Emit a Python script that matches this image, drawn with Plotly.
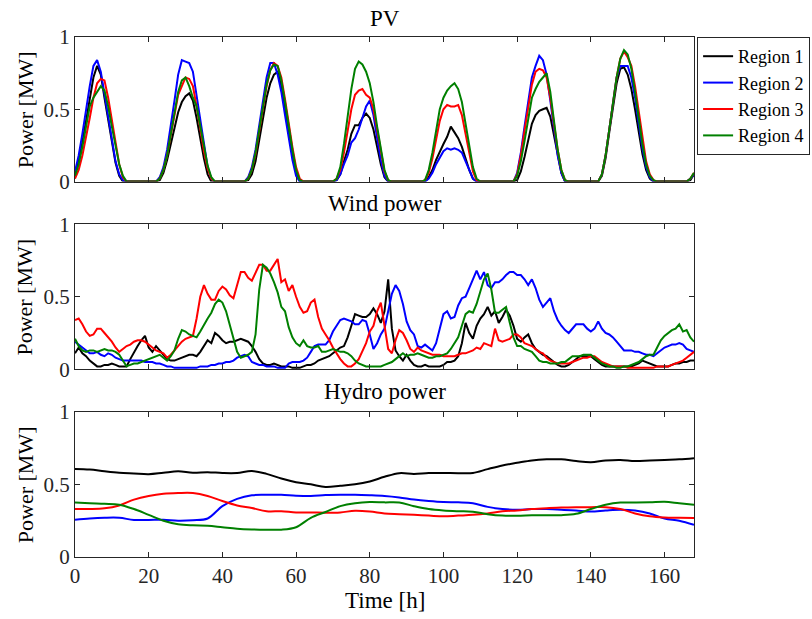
import plotly.graph_objects as go

# ---------------- data ----------------
hours = list(range(169))
hydro_hours = list(range(0, 169, 4))
regions = ["Region 1", "Region 2", "Region 3", "Region 4"]
colors = ["#000000", "#0000FF", "#FF0000", "#008000"]

pv_r1 = [0.05,0.14,0.27,0.42,0.58,0.72,0.80,0.74,0.58,0.42,0.26,0.13,0.04,0,0,0,0,0,0,0,0,0,0,0.01,
         0.06,0.15,0.26,0.38,0.48,0.55,0.59,0.61,0.56,0.44,0.30,0.16,0.05,0,0,0,0,0,0,0,0,0,0,0.01,
         0.05,0.14,0.28,0.44,0.58,0.68,0.74,0.76,0.66,0.50,0.34,0.19,0.07,0,0,0,0,0,0,0,0,0,0,0.01,
         0.05,0.14,0.22,0.33,0.39,0.39,0.44,0.47,0.44,0.36,0.24,0.12,0.03,0,0,0,0,0,0,0,0,0,0,0,
         0.03,0.08,0.15,0.21,0.26,0.31,0.38,0.34,0.30,0.24,0.16,0.08,0.02,0,0,0,0,0,0,0,0,0,0,0,
         0.01,0.07,0.17,0.29,0.40,0.46,0.49,0.50,0.51,0.45,0.32,0.17,0.06,0,0,0,0,0,0,0,0,0,0,0.04,
         0.16,0.34,0.52,0.68,0.78,0.79,0.74,0.64,0.50,0.34,0.19,0.08,0.02,0,0,0,0,0,0,0,0,0,0,0.01,
         0.05]
pv_r2 = [0.07,0.18,0.33,0.50,0.66,0.80,0.84,0.76,0.60,0.43,0.27,0.14,0.05,0.01,0,0,0,0,0,0,0,0,0,0.03,
         0.10,0.22,0.38,0.56,0.74,0.84,0.83,0.82,0.76,0.60,0.42,0.25,0.10,0.02,0,0,0,0,0,0,0,0,0,0.03,
         0.10,0.22,0.38,0.56,0.72,0.82,0.82,0.74,0.62,0.46,0.30,0.15,0.04,0,0,0,0,0,0,0,0,0,0,0.01,
         0.05,0.12,0.18,0.27,0.30,0.36,0.44,0.52,0.56,0.46,0.30,0.15,0.04,0,0,0,0,0,0,0,0,0,0,0,
         0.02,0.06,0.12,0.17,0.21,0.23,0.22,0.23,0.22,0.20,0.14,0.07,0.02,0,0,0,0,0,0,0,0,0,0,0,
         0.06,0.20,0.38,0.56,0.72,0.80,0.87,0.84,0.74,0.56,0.36,0.18,0.06,0,0,0,0,0,0,0,0,0,0,0.05,
         0.18,0.36,0.55,0.72,0.80,0.80,0.80,0.72,0.58,0.40,0.23,0.10,0.03,0,0,0,0,0,0,0,0,0,0,0.02,
         0.05]
pv_r3 = [0.02,0.08,0.18,0.30,0.44,0.58,0.68,0.71,0.70,0.58,0.42,0.26,0.12,0.03,0,0,0,0,0,0,0,0,0,0.02,
         0.08,0.18,0.32,0.47,0.60,0.66,0.72,0.71,0.66,0.52,0.36,0.21,0.09,0.02,0,0,0,0,0,0,0,0,0,0.02,
         0.08,0.19,0.34,0.50,0.66,0.77,0.82,0.80,0.72,0.57,0.40,0.24,0.10,0.02,0,0,0,0,0,0,0,0,0,0.02,
         0.08,0.20,0.36,0.50,0.60,0.63,0.64,0.60,0.58,0.50,0.36,0.20,0.07,0.01,0,0,0,0,0,0,0,0,0,0.01,
         0.06,0.16,0.30,0.42,0.50,0.53,0.52,0.52,0.53,0.46,0.33,0.19,0.07,0.01,0,0,0,0,0,0,0,0,0,0,
         0.05,0.18,0.35,0.52,0.67,0.76,0.78,0.77,0.72,0.58,0.40,0.22,0.08,0.01,0,0,0,0,0,0,0,0,0,0.05,
         0.18,0.36,0.55,0.72,0.85,0.90,0.86,0.80,0.66,0.48,0.30,0.14,0.05,0.01,0,0,0,0,0,0,0,0,0,0.02,
         0.06]
pv_r4 = [0.04,0.12,0.24,0.38,0.52,0.58,0.62,0.66,0.63,0.52,0.38,0.24,0.12,0.04,0,0,0,0,0,0,0,0,0,0.02,
         0.08,0.18,0.32,0.48,0.62,0.70,0.72,0.66,0.58,0.52,0.38,0.24,0.11,0.03,0,0,0,0,0,0,0,0,0,0.02,
         0.08,0.20,0.36,0.52,0.67,0.77,0.81,0.80,0.70,0.55,0.38,0.22,0.08,0.01,0,0,0,0,0,0,0,0,0,0.02,
         0.10,0.26,0.46,0.64,0.78,0.83,0.81,0.76,0.68,0.55,0.38,0.22,0.08,0.01,0,0,0,0,0,0,0,0,0,0.01,
         0.08,0.20,0.36,0.50,0.58,0.63,0.66,0.68,0.64,0.55,0.40,0.24,0.10,0.02,0,0,0,0,0,0,0,0,0,0,
         0.04,0.14,0.28,0.44,0.58,0.64,0.69,0.72,0.75,0.62,0.42,0.22,0.08,0.01,0,0,0,0,0,0,0,0,0,0.05,
         0.18,0.36,0.55,0.72,0.85,0.91,0.88,0.78,0.62,0.44,0.26,0.12,0.04,0.01,0,0,0,0,0,0,0,0,0,0.02,
         0.06]

wind_r1 = [0.11,0.15,0.11,0.09,0.06,0.04,0.02,0.02,0.03,0.03,0.04,0.03,0.02,0.02,0.02,0.07,0.12,0.16,0.20,0.23,0.15,0.12,0.16,0.13,
           0.10,0.07,0.06,0.06,0.07,0.08,0.09,0.10,0.10,0.09,0.12,0.16,0.20,0.18,0.25,0.23,0.20,0.18,0.19,0.19,0.20,0.21,0.20,0.19,
           0.16,0.12,0.07,0.04,0.03,0.03,0.04,0.03,0.02,0.02,0.02,0.01,0.01,0.01,0.02,0.03,0.03,0.04,0.06,0.07,0.08,0.09,0.11,0.13,
           0.15,0.16,0.22,0.30,0.38,0.37,0.36,0.36,0.38,0.42,0.38,0.32,0.40,0.62,0.28,0.13,0.09,0.06,0.10,0.06,0.03,0.02,0.02,0.03,
           0.02,0.02,0.02,0.02,0.03,0.05,0.05,0.06,0.09,0.18,0.32,0.25,0.21,0.30,0.35,0.38,0.43,0.37,0.40,0.32,0.36,0.41,0.37,0.30,
           0.21,0.19,0.22,0.24,0.18,0.14,0.12,0.10,0.09,0.07,0.05,0.03,0.02,0.02,0.03,0.05,0.07,0.09,0.09,0.09,0.09,0.07,0.05,0.03,
           0.02,0.02,0.02,0.02,0.02,0.02,0.02,0.02,0.03,0.04,0.06,0.05,0.04,0.03,0.02,0.02,0.02,0.02,0.03,0.04,0.04,0.05,0.05,0.06,
           0.06]
wind_r2 = [0.19,0.17,0.15,0.13,0.11,0.11,0.12,0.10,0.09,0.11,0.10,0.08,0.07,0.06,0.06,0.06,0.06,0.06,0.06,0.05,0.05,0.05,0.04,0.04,
           0.03,0.02,0.02,0.01,0.01,0.01,0.01,0.01,0.01,0.01,0.02,0.02,0.02,0.03,0.03,0.04,0.04,0.05,0.05,0.06,0.08,0.09,0.10,0.09,
           0.05,0.04,0.03,0.03,0.02,0.02,0.02,0.01,0.01,0.01,0.04,0.05,0.05,0.05,0.06,0.08,0.12,0.16,0.17,0.17,0.17,0.20,0.26,0.30,
           0.34,0.35,0.34,0.33,0.31,0.31,0.34,0.33,0.24,0.14,0.18,0.24,0.28,0.40,0.52,0.58,0.54,0.45,0.33,0.27,0.24,0.16,0.15,0.17,
           0.15,0.13,0.18,0.28,0.38,0.40,0.35,0.36,0.44,0.49,0.50,0.56,0.62,0.68,0.62,0.67,0.58,0.56,0.60,0.60,0.62,0.65,0.67,0.67,
           0.65,0.65,0.62,0.58,0.62,0.56,0.48,0.43,0.46,0.49,0.40,0.34,0.30,0.27,0.25,0.28,0.31,0.31,0.31,0.28,0.26,0.28,0.33,0.28,
           0.25,0.24,0.22,0.19,0.16,0.13,0.13,0.13,0.12,0.12,0.11,0.10,0.10,0.09,0.11,0.13,0.15,0.16,0.17,0.17,0.18,0.17,0.14,0.13,
           0.12]
wind_r3 = [0.34,0.35,0.31,0.26,0.23,0.24,0.28,0.28,0.25,0.22,0.19,0.15,0.12,0.14,0.16,0.17,0.19,0.20,0.20,0.19,0.17,0.15,0.13,0.12,
           0.11,0.08,0.10,0.13,0.16,0.19,0.21,0.22,0.23,0.35,0.50,0.58,0.52,0.48,0.48,0.54,0.57,0.55,0.51,0.49,0.58,0.67,0.67,0.63,
           0.61,0.66,0.72,0.72,0.68,0.68,0.72,0.76,0.60,0.62,0.54,0.58,0.50,0.43,0.39,0.40,0.46,0.48,0.36,0.28,0.24,0.20,0.15,0.11,
           0.07,0.04,0.02,0.02,0.04,0.07,0.13,0.18,0.26,0.30,0.40,0.46,0.30,0.14,0.11,0.20,0.27,0.25,0.20,0.14,0.12,0.15,0.13,0.12,
           0.11,0.10,0.10,0.10,0.09,0.09,0.09,0.09,0.10,0.11,0.11,0.12,0.13,0.15,0.14,0.18,0.17,0.16,0.28,0.20,0.19,0.20,0.21,0.24,
           0.24,0.22,0.18,0.17,0.16,0.14,0.12,0.11,0.08,0.06,0.05,0.04,0.04,0.04,0.04,0.05,0.06,0.07,0.08,0.08,0.09,0.09,0.07,0.05,
           0.04,0.03,0.02,0.02,0.02,0.02,0.01,0.01,0.01,0.01,0.01,0.01,0.01,0.01,0.02,0.02,0.02,0.02,0.03,0.04,0.05,0.06,0.08,0.10,
           0.12]
wind_r4 = [0.21,0.16,0.13,0.12,0.13,0.13,0.12,0.13,0.14,0.13,0.13,0.12,0.10,0.06,0.02,0.03,0.04,0.04,0.05,0.06,0.07,0.08,0.09,0.10,
           0.08,0.06,0.09,0.13,0.21,0.27,0.26,0.24,0.23,0.22,0.26,0.31,0.35,0.39,0.45,0.48,0.46,0.40,0.30,0.22,0.12,0.08,0.09,0.10,
           0.12,0.24,0.55,0.72,0.70,0.66,0.60,0.53,0.43,0.40,0.29,0.22,0.18,0.16,0.20,0.16,0.15,0.15,0.16,0.12,0.12,0.13,0.14,0.13,
           0.12,0.12,0.11,0.09,0.06,0.04,0.03,0.02,0.02,0.02,0.02,0.02,0.03,0.04,0.05,0.07,0.09,0.11,0.09,0.10,0.10,0.11,0.10,0.09,
           0.08,0.08,0.09,0.09,0.10,0.11,0.14,0.18,0.22,0.30,0.38,0.40,0.39,0.45,0.54,0.62,0.66,0.55,0.39,0.39,0.41,0.43,0.32,0.22,
           0.16,0.16,0.14,0.13,0.12,0.09,0.06,0.05,0.05,0.04,0.04,0.04,0.05,0.05,0.07,0.09,0.09,0.09,0.10,0.10,0.10,0.08,0.06,0.04,
           0.03,0.02,0.02,0.01,0.01,0.02,0.02,0.03,0.04,0.05,0.07,0.09,0.10,0.10,0.15,0.20,0.23,0.25,0.27,0.28,0.31,0.26,0.27,0.22,
           0.19]

hydro_r1 = [0.606,0.602,0.59,0.58,0.575,0.57,0.58,0.59,0.58,0.584,0.578,0.578,0.592,0.572,0.54,0.515,0.50,0.482,0.49,0.50,0.52,0.552,
            0.577,0.572,0.578,0.578,0.577,0.578,0.605,0.63,0.648,0.665,0.672,0.672,0.66,0.652,0.664,0.668,0.66,0.664,0.668,0.672,0.68]
hydro_r2 = [0.256,0.265,0.27,0.27,0.255,0.255,0.256,0.25,0.253,0.265,0.35,0.40,0.425,0.428,0.428,0.422,0.42,0.426,0.428,0.428,0.425,0.42,
            0.41,0.395,0.385,0.378,0.376,0.37,0.345,0.33,0.325,0.33,0.33,0.326,0.32,0.313,0.32,0.325,0.32,0.30,0.265,0.25,0.222]
hydro_r3 = [0.33,0.33,0.335,0.355,0.395,0.42,0.435,0.44,0.44,0.42,0.385,0.355,0.337,0.315,0.315,0.307,0.307,0.305,0.307,0.318,0.313,0.30,
            0.295,0.29,0.285,0.28,0.285,0.29,0.30,0.315,0.32,0.33,0.336,0.34,0.343,0.343,0.343,0.33,0.30,0.28,0.272,0.27,0.268]
hydro_r4 = [0.375,0.37,0.366,0.36,0.33,0.29,0.25,0.226,0.218,0.215,0.205,0.195,0.19,0.188,0.188,0.205,0.27,0.31,0.35,0.37,0.378,0.376,
            0.375,0.35,0.33,0.32,0.315,0.312,0.295,0.285,0.284,0.287,0.288,0.288,0.297,0.33,0.36,0.375,0.375,0.376,0.38,0.37,0.36]

pv = [pv_r1, pv_r2, pv_r3, pv_r4]
wind = [wind_r1, wind_r2, wind_r3, wind_r4]
hydro = [hydro_r1, hydro_r2, hydro_r3, hydro_r4]

panel_titles = ["PV", "Wind power", "Hydro power"]
x_ticks = [0, 20, 40, 60, 80, 100, 120, 140, 160]
y_ticks = [0, 0.5, 1]
y_tick_text = ["0", "0.5", "1"]

# ---------------- figure ----------------
FONT = "Liberation Serif"
AX = "#262626"

fig = go.Figure()
for i in range(4):
    fig.add_trace(go.Scatter(x=hours, y=pv[i], mode="lines", name=regions[i],
                             line=dict(color=colors[i], width=2), legendgroup=regions[i],
                             xaxis="x", yaxis="y"))
for i in range(4):
    fig.add_trace(go.Scatter(x=hours, y=wind[i], mode="lines", name=regions[i],
                             line=dict(color=colors[i], width=2), legendgroup=regions[i],
                             showlegend=False, xaxis="x2", yaxis="y2"))
for i in range(4):
    fig.add_trace(go.Scatter(x=hydro_hours, y=hydro[i], mode="lines", name=regions[i],
                             line=dict(color=colors[i], width=2, shape="spline"), legendgroup=regions[i],
                             showlegend=False, xaxis="x3", yaxis="y3"))

common = dict(showline=True, linecolor=AX, linewidth=1, mirror="ticks", ticks="inside",
              ticklen=5, tickcolor=AX, showgrid=False, zeroline=False,
              tickfont=dict(family=FONT, size=21, color=AX))
xcommon = dict(common, range=[0, 168], tickvals=x_ticks)
ycommon = dict(common, range=[0, 1], tickvals=y_ticks, ticktext=y_tick_text)

doms = [[0.722, 1.0], [0.361, 0.640], [0.0, 0.2794]]

fig.update_layout(
    width=812, height=619,
    margin=dict(l=75, r=118, t=37, b=62, autoexpand=False),
    paper_bgcolor="white", plot_bgcolor="white",
    font=dict(family=FONT, size=21, color="black"),
    xaxis=dict(xcommon, anchor="y", domain=[0, 1], showticklabels=False),
    yaxis=dict(ycommon, anchor="x", domain=doms[0]),
    xaxis2=dict(xcommon, anchor="y2", domain=[0, 1], showticklabels=False),
    yaxis2=dict(ycommon, anchor="x2", domain=doms[1]),
    xaxis3=dict(xcommon, anchor="y3", domain=[0, 1]),
    yaxis3=dict(ycommon, anchor="x3", domain=doms[2]),
    showlegend=True,
    legend=dict(x=1.005, y=1.0, xanchor="left", yanchor="top",
                bordercolor=AX, borderwidth=1, bgcolor="white",
                font=dict(family=FONT, size=18, color="black"),
                itemwidth=30, tracegroupgap=0),
)

title_y = [1.036, 0.679, 0.319]
annotations = []
for t, yy in zip(panel_titles, title_y):
    annotations.append(dict(text=t, x=0.5, y=yy, xref="paper", yref="paper",
                            xanchor="center", yanchor="middle", showarrow=False,
                            font=dict(family=FONT, size=23, color="black")))
for d in doms:
    annotations.append(dict(text="Power [MW]", x=-0.081, y=(d[0] + d[1]) / 2,
                            xref="paper", yref="paper", xanchor="center", yanchor="middle",
                            textangle=-90, showarrow=False,
                            font=dict(family=FONT, size=22, color="black")))
annotations.append(dict(text="Time [h]", x=0.5, y=-0.083, xref="paper", yref="paper",
                        xanchor="center", yanchor="middle", showarrow=False,
                        font=dict(family=FONT, size=23, color="black")))
fig.update_layout(annotations=annotations)

fig.write_html("out.html")
